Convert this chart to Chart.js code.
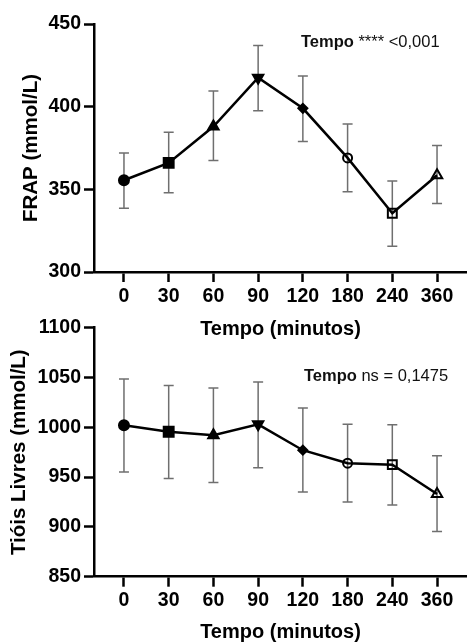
<!DOCTYPE html>
<html>
<head>
<meta charset="utf-8">
<script src="https://cdn.jsdelivr.net/npm/chart.js@4"></script>
<style>
  html, body { margin: 0; padding: 0; background: #fff; }
  body { width: 467px; height: 642px; position: relative; overflow: hidden; }
  .box { position: absolute; left: 0; width: 467px; }
</style>
</head>
<body>
<div class="box" style="top:0;height:345px"><canvas id="frap"></canvas></div>
<div class="box" style="top:300px;height:342px"><canvas id="tiois"></canvas></div>
<script>
const timeLabels = ["0", "30", "60", "90", "120", "180", "240", "360"];

const frapMean = [355.5, 366, 388, 417.5, 399, 369, 335.5, 358.5];
const frapUpper = [372, 384.5, 409.5, 437, 418.5, 389.5, 355, 376.5];
const frapLower = [338.5, 348, 367.5, 397.5, 379, 348.5, 315.5, 341.5];

const tioisMean = [1002, 995.5, 992, 1003, 977, 964, 962.5, 933];
const tioisUpper = [1048.5, 1042, 1039.5, 1045.5, 1019.5, 1003, 1002.5, 971.5];
const tioisLower = [955, 948.5, 944.5, 959.5, 935, 925, 922, 895.5];

const frapTicks = [300, 350, 400, 450];
const tioisTicks = [850, 900, 950, 1000, 1050, 1100];

// marker look for each time point (GraphPad style)
const markerShape = ["circle", "rect", "triangle", "triangle", "rectRot", "circle", "rect", "triangle"];
const markerTurn = [0, 0, 0, 180, 0, 0, 0, 0];
const markerSize = [5, 7, 6, 6, 4.5, 4.5, 6.3, 6];
const markerFill = ["#000", "#000", "#000", "#000", "#000", "rgba(0,0,0,0)", "rgba(0,0,0,0)", "rgba(0,0,0,0)"];

const FONT = "'Liberation Sans', Arial, sans-serif";

const errorBars = {
  id: "errorBars",
  beforeDatasetsDraw(chart, args, opts) {
    const { ctx, scales: { x, y } } = chart;
    ctx.save();
    ctx.strokeStyle = "#6f6f6f";
    ctx.lineWidth = 1.5;
    opts.upper.forEach((hi, i) => {
      const px = x.getPixelForValue(i);
      const top = y.getPixelForValue(hi);
      const bot = y.getPixelForValue(opts.lower[i]);
      ctx.beginPath();
      ctx.moveTo(px, top); ctx.lineTo(px, bot);
      ctx.moveTo(px - 5, top); ctx.lineTo(px + 5, top);
      ctx.moveTo(px - 5, bot); ctx.lineTo(px + 5, bot);
      ctx.stroke();
    });
    ctx.restore();
  }
};

const note = {
  id: "note",
  afterDraw(chart, args, opts) {
    const { ctx, chartArea } = chart;
    ctx.save();
    ctx.textBaseline = "middle";
    ctx.fillStyle = "#111";
    const x = chartArea.right - opts.fromRight;
    const y = chartArea.top + opts.down;
    ctx.font = "bold 16.5px " + FONT;
    ctx.fillText("Tempo", x, y);
    const w = ctx.measureText("Tempo").width;
    ctx.font = "16.5px " + FONT;
    ctx.fillText(opts.rest, x + w, y);
    ctx.restore();
  }
};

function makeChart(id, cfg) {
  return new Chart(document.getElementById(id), {
    type: "line",
    data: {
      datasets: [{
        data: cfg.mean.map((v, i) => ({ x: i, y: v })),
        borderColor: "#000",
        borderWidth: 2.5,
        pointStyle: markerShape,
        pointRotation: markerTurn,
        pointRadius: markerSize,
        pointBackgroundColor: markerFill,
        pointBorderColor: "#000",
        pointBorderWidth: 2,
        tension: 0
      }]
    },
    options: {
      responsive: true,
      maintainAspectRatio: false,
      animation: false,
      events: [],
      layout: { autoPadding: false, padding: { top: cfg.padTop, right: 0, left: 0, bottom: 0 } },
      plugins: {
        legend: { display: false },
        tooltip: { enabled: false },
        errorBars: { upper: cfg.upper, lower: cfg.lower },
        note: { rest: cfg.note, fromRight: cfg.noteRight, down: cfg.noteDown }
      },
      scales: {
        x: {
          type: "linear",
          min: -0.67,
          max: 7.67,
          afterBuildTicks: (s) => { s.ticks = timeLabels.map((_, i) => ({ value: i })); },
          afterFit: (s) => { s.height = cfg.xHeight; s.paddingLeft = 0; s.paddingRight = 0; },
          border: { display: true, color: "#000", width: 2.5 },
          grid: { drawOnChartArea: false, drawTicks: true, tickLength: 10, tickColor: "#000", tickWidth: 2.5 },
          ticks: {
            color: "#000",
            padding: cfg.xTickPad,
            autoSkip: false,
            maxRotation: 0,
            font: { family: FONT, size: 19.5, weight: "bold" },
            callback: (v) => timeLabels[v]
          },
          title: {
            display: true,
            text: "Tempo (minutos)",
            color: "#000",
            font: { family: FONT, size: 20, weight: "bold", lineHeight: 1 },
            padding: { top: 0, bottom: cfg.xTitlePad }
          }
        },
        y: {
          min: cfg.ticks[0],
          max: cfg.ticks[cfg.ticks.length - 1],
          afterBuildTicks: (s) => { s.ticks = cfg.ticks.map((v) => ({ value: v })); },
          afterFit: (s) => { s.width = 94; },
          border: { display: true, color: "#000", width: 2.5 },
          grid: { drawOnChartArea: false, drawTicks: true, tickLength: 10, tickColor: "#000", tickWidth: 2.5 },
          ticks: {
            color: "#000",
            padding: 3,
            font: { family: FONT, size: 19.5, weight: "bold" },
            callback: (v) => String(v)
          },
          title: {
            display: true,
            text: cfg.yTitle,
            color: "#000",
            font: { family: FONT, size: 20.5, weight: "bold", lineHeight: 1 },
            padding: { top: cfg.yTitlePad, bottom: 0 }
          }
        }
      }
    },
    plugins: [errorBars, note]
  });
}

makeChart("frap", {
  mean: frapMean, upper: frapUpper, lower: frapLower, ticks: frapTicks,
  yTitle: "FRAP (mmol/L)", note: " **** <0,001",
  padTop: 24, xHeight: 73, xTickPad: 2.5, xTitlePad: 6, yTitlePad: 21,
  noteRight: 166, noteDown: 18
});

makeChart("tiois", {
  mean: tioisMean, upper: tioisUpper, lower: tioisLower, ticks: tioisTicks,
  yTitle: "Tióis Livres (mmol/L)", note: " ns = 0,1475",
  padTop: 27.7, xHeight: 65.3, xTickPad: 2, xTitlePad: 0, yTitlePad: 9,
  noteRight: 163, noteDown: 49
});
</script>
</body>
</html>
